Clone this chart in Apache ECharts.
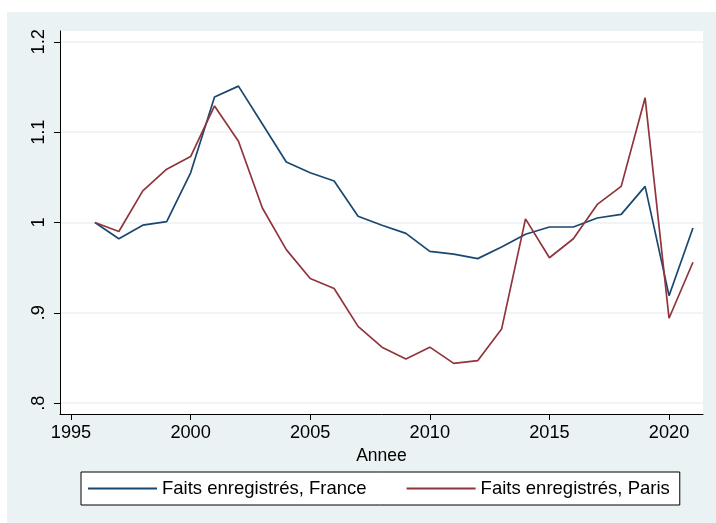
<!DOCTYPE html>
<html>
<head>
<meta charset="utf-8">
<script src="https://cdn.jsdelivr.net/npm/echarts@6/dist/echarts.min.js"></script>
<style>
html,body{margin:0;padding:0;background:#fff;}
#chart{width:716px;height:523px;}
</style>
</head>
<body>
<div id="chart"></div>
<script>
var years = [1996,1997,1998,1999,2000,2001,2002,2003,2004,2005,2006,2007,2008,2009,2010,2011,2012,2013,2014,2015,2016,2017,2018,2019,2020,2021];
var france = [1.000,0.982,0.997,1.001,1.055,1.139,1.151,1.109,1.067,1.055,1.046,1.007,0.997,0.988,0.968,0.965,0.960,0.973,0.987,0.995,0.995,1.005,1.009,1.040,0.919,0.994];
var paris  = [1.000,0.990,1.035,1.059,1.073,1.129,1.090,1.016,0.970,0.938,0.927,0.885,0.862,0.849,0.862,0.844,0.847,0.882,1.004,0.961,0.982,1.020,1.040,1.138,0.894,0.956];
var xTicks = [1995,2000,2005,2010,2015,2020];
var yTicks = [0.8,0.9,1.0,1.1,1.2];
var yTickLabels = ['.8','.9','1','1.1','1.2'];
var seriesNames = ['Faits enregistrés, France','Faits enregistrés, Paris'];

function pairs(vals){ return years.map(function(y,i){ return [y, vals[i]]; }); }
var font = "'Liberation Sans', Arial, sans-serif";

var chart = echarts.init(document.getElementById('chart'));
chart.setOption({
  animation: false,
  graphic: [{
    type: 'rect', z: -10, silent: true,
    shape: {x: 7, y: 12, width: 709, height: 511},
    style: {fill: '#EAF2F3'}
  }],
  grid: {left: 60, top: 31, right: 13, bottom: 109, show: true, backgroundColor: '#fff', borderWidth: 0},
  xAxis: {
    type: 'value', min: 1994.54, max: 2021.42,
    name: 'Annee', nameLocation: 'middle', nameGap: 31,
    nameTextStyle: {fontFamily: font, fontSize: 17.5, color: '#000'},
    axisLine: {show: true, lineStyle: {color: '#000', width: 1}},
    axisTick: {show: true, length: 6, lineStyle: {color: '#000'}, customValues: xTicks},
    axisLabel: {customValues: xTicks, fontFamily: font, fontSize: 18.2, color: '#000', margin: 10,
      formatter: function(v){ return String(Math.round(v)); }},
    splitLine: {show: false}
  },
  yAxis: {
    type: 'value', min: 0.788, max: 1.212,
    axisLine: {show: true, lineStyle: {color: '#000', width: 1}},
    axisTick: {show: true, length: 6, lineStyle: {color: '#000'}, customValues: yTicks},
    axisLabel: {customValues: yTicks, fontFamily: font, fontSize: 18.2, color: '#000', rotate: 90, margin: 12,
      formatter: function(v){
        for (var i=0;i<yTicks.length;i++){ if (Math.abs(yTicks[i]-v)<1e-6) return yTickLabels[i]; }
        return '';
      }},
    splitLine: {show: true, lineStyle: {color: '#EAF2F3', width: 1.5}}
  },
  legend: {
    left: 81, top: 472,
    padding: [7, 10, 7, 7],
    backgroundColor: '#fff', borderColor: '#000', borderWidth: 1, borderRadius: 0,
    itemWidth: 69, itemHeight: 2, itemGap: 40, itemTextGap: 11,
    icon: 'rect',
    textStyle: {fontFamily: font, fontSize: 18.5, color: '#000'},
    data: seriesNames
  },
  series: [
    {name: seriesNames[0], type: 'line', data: pairs(france), symbol: 'none', showSymbol: false,
     lineStyle: {color: '#1A476F', width: 1.7}, itemStyle: {color: '#1A476F'}},
    {name: seriesNames[1], type: 'line', data: pairs(paris), symbol: 'none', showSymbol: false,
     lineStyle: {color: '#90353B', width: 1.7}, itemStyle: {color: '#90353B'}}
  ]
});
</script>
</body>
</html>
